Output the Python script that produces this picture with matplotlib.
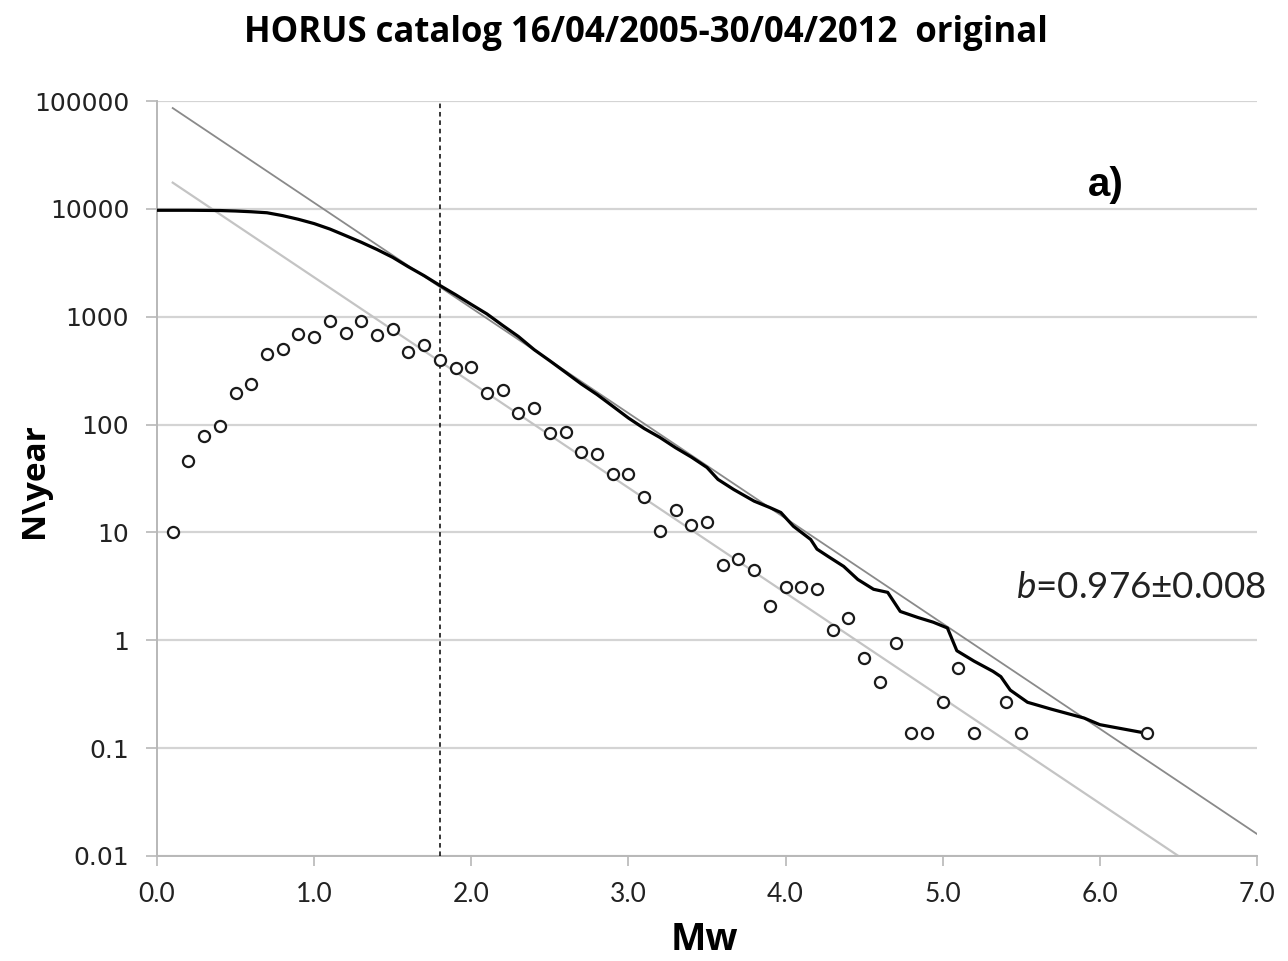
import matplotlib.pyplot as plt
import numpy as np

# incremental counts per year (open circles)
mw_inc = [0.1, 0.2, 0.3, 0.4, 0.5, 0.6, 0.7, 0.8, 0.9, 1.0,
          1.1, 1.2, 1.3, 1.4, 1.5, 1.6, 1.7, 1.8, 1.9, 2.0,
          2.1, 2.2, 2.3, 2.4, 2.5, 2.6, 2.7, 2.8, 2.9, 3.0,
          3.1, 3.2, 3.3, 3.4, 3.5, 3.6, 3.7, 3.8, 3.9, 4.0,
          4.1, 4.2, 4.3, 4.4, 4.5, 4.6, 4.7, 4.8, 4.9, 5.0,
          5.1, 5.2, 5.4, 5.5, 6.3]
n_inc = [10, 46, 78, 96, 198, 240, 455, 507, 684, 655,
         922, 713, 922, 670, 777, 475, 552, 393, 331, 345,
         198, 211, 127, 141, 83, 86, 56, 53, 34.5, 35,
         21.5, 10.2, 16.3, 11.6, 12.6, 5.0, 5.7, 4.45, 2.06, 3.1,
         3.1, 2.96, 1.24, 1.6, 0.68, 0.41, 0.95, 0.137, 0.137, 0.27,
         0.55, 0.137, 0.27, 0.137, 0.137]

# cumulative counts per year (thick line)
mw_cum = [0.0, 0.2, 0.4, 0.5, 0.6, 0.7, 0.8, 0.9, 1.0, 1.1,
          1.2, 1.3, 1.4, 1.5, 1.6, 1.7, 1.8, 1.9, 2.0, 2.1,
          2.2, 2.3, 2.4, 2.5, 2.6, 2.7, 2.8, 2.9, 3.0, 3.1,
          3.2, 3.3, 3.4, 3.5, 3.57, 3.67, 3.8, 3.9, 3.97, 4.05,
          4.16, 4.2, 4.27, 4.37, 4.46, 4.56, 4.65, 4.73, 4.84, 4.94,
          5.03, 5.09, 5.2, 5.32, 5.37, 5.43, 5.54, 5.69, 5.9, 6.0, 6.3]
n_cum = [9700, 9700, 9650, 9550, 9400, 9200, 8650, 8000, 7300, 6500,
         5650, 4900, 4200, 3550, 2900, 2400, 1950, 1600, 1300, 1060,
         830, 655, 495, 390, 305, 238, 190, 148, 115, 92,
         76, 61, 50, 40, 31, 25, 19.5, 17, 15.3, 11.4,
         8.6, 7.0, 6.0, 4.84, 3.66, 2.97, 2.78, 1.85, 1.63, 1.47,
         1.3, 0.8, 0.64, 0.515, 0.46, 0.345, 0.266, 0.23, 0.19, 0.165, 0.137]

# Gutenberg-Richter fit lines (end points)
fit_cum_x = [0.1, 7.0]
fit_cum_y = [86000, 0.016]
fit_inc_x = [0.1, 6.5]
fit_inc_y = [17500, 0.01]

mc = 1.8

plt.rcParams['mathtext.fontset'] = 'custom'
plt.rcParams['mathtext.it'] = 'Lato:italic'
plt.rcParams['mathtext.rm'] = 'Lato'

fig = plt.figure(figsize=(12.88, 9.61), dpi=100)
ax = fig.add_axes([0.1219, 0.1093, 0.854, 0.7856])

ax.set_yscale('log')
ax.set_xlim(0, 7)
ax.set_ylim(0.01, 100000)

ax.grid(axis='y', color='#d4d4d4', lw=1.6)
ax.set_axisbelow(True)
for s in ['top', 'right']:
    ax.spines[s].set_visible(False)
for s in ['left', 'bottom']:
    ax.spines[s].set_color('#b8b8b8')
    ax.spines[s].set_linewidth(1.4)

ax.plot(fit_cum_x, fit_cum_y, color='#8a8a8a', lw=1.3, zorder=2)
ax.plot(fit_inc_x, fit_inc_y, color='#c4c4c4', lw=1.6, zorder=2)
ax.axvline(mc, color='black', lw=1.1, ls=(0, (3, 2.5)), zorder=3)
ax.plot(mw_cum, n_cum, color='black', lw=2.3, zorder=4)
ax.plot(mw_inc, n_inc, 'o', ms=8, mfc='white', mec='#1a1a1a', mew=1.6, zorder=5)

ax.set_xticks(np.arange(0, 7.1, 1.0))
ax.set_xticklabels(['%.1f' % v for v in np.arange(0, 7.1, 1.0)], family='Lato', fontsize=19)
yt = [0.01, 0.1, 1, 10, 100, 1000, 10000, 100000]
ax.set_yticks(yt)
ax.set_yticklabels(['0.01', '0.1', '1', '10', '100', '1000', '10000', '100000'],
                   family='DejaVu Sans', fontsize=18)
ax.yaxis.set_minor_locator(plt.NullLocator())
ax.tick_params(axis='x', length=7, width=1.2, color='#b8b8b8', pad=12, labelcolor='#222222')
ax.tick_params(axis='y', length=8, width=1.2, color='#b8b8b8', pad=12, labelcolor='#222222')

ax.text(6.04, 16800, 'a)', fontsize=29, fontweight='bold', family='Liberation Sans',
        ha='center', va='center')
ax.text(5.465, 3.09, r'$b$=0.976±0.008', fontsize=26.5, family='Lato',
        ha='left', va='center', clip_on=False, color='#222222')

fig.text(0.5016, 0.966, 'HORUS catalog 16/04/2005-30/04/2012  original',
         fontsize=25, fontweight='bold', family='Open Sans', ha='center', va='center')
fig.text(0.027, 0.50, 'N\\year', rotation=90, fontsize=24, fontweight='bold',
         family='Open Sans', ha='center', va='center')
fig.text(0.547, 0.022, 'Mw', fontsize=27, fontweight='bold', family='Open Sans',
         ha='center', va='center')

fig.savefig('out.png', dpi=100)
